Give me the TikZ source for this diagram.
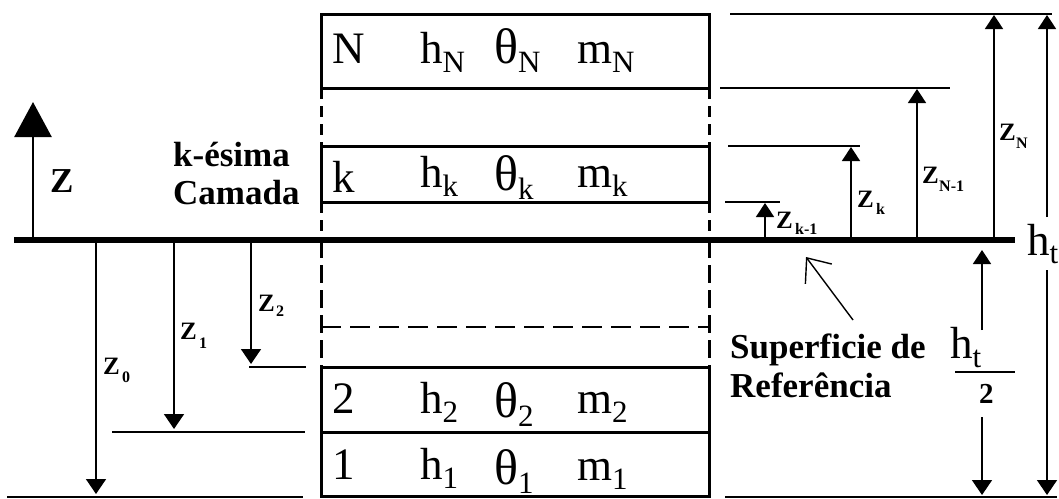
\documentclass[tikz,border=0pt]{standalone}
\usepackage{fontspec}
\setmainfont{Liberation Serif}
\usetikzlibrary{arrows.meta}
\newcommand{\boxfont}{\fontsize{45}{50}\selectfont}
\newcommand{\bsub}[1]{\raisebox{-9pt}{\fontsize{31}{32}\selectfont #1}}
\newcommand{\bigth}{{\fontsize{50}{52}\selectfont θ}}
\tikzset{
  boxline/.style={line width=3pt},
  thinline/.style={line width=1.4pt},
  refline/.style={line width=6pt},
  dashside/.style={line width=3pt, dash pattern=on 11pt off 7pt},
  dashlow/.style={line width=3pt, dash pattern=on 18pt off 7pt},
  dashhor/.style={line width=2.5pt, dash pattern=on 20pt off 9pt},
  uparr/.style={line width=1.6pt, -{Triangle[width=18pt,length=14pt]}},
  dnarr/.style={line width=1.6pt, -{Triangle[width=20pt,length=15pt]}},
  bigarr/.style={line width=2.5pt, -{Triangle[width=37pt,length=35pt]}},
  ptr/.style={line width=1.4pt, -{Straight Barb[length=20pt,width=33pt,line width=1.4pt]}},
  boxtxt/.style={anchor=base west, inner sep=0pt, font=\boxfont},
  ztxt/.style={anchor=base west, inner sep=0pt, font=\fontsize{25}{27}\selectfont\bfseries},
  zsub/.style={anchor=base west, inner sep=0pt, font=\fontsize{16}{17}\selectfont\bfseries},
  lbl/.style={anchor=base west, inner sep=0pt, font=\fontsize{35}{38}\selectfont\bfseries},
}
\begin{document}
\begin{tikzpicture}[x=1pt,y=-1pt]
\useasboundingbox (0,0) rectangle (1059,498);
\fill[white] (0,0) rectangle (1059,498);

% ---- column of layers ----
\coordinate (L0) at (321,14);  \coordinate (R0) at (709,14);
\coordinate (L1) at (321,88);  \coordinate (R1) at (709,88);
\coordinate (L2) at (321,146); \coordinate (R2) at (709,146);
\coordinate (L3) at (321,202); \coordinate (R3) at (709,202);
\coordinate (L4) at (321,367); \coordinate (R4) at (709,367);
\coordinate (L5) at (321,432); \coordinate (R5) at (709,432);
\coordinate (L6) at (321,496); \coordinate (R6) at (709,496);
\coordinate (Ld) at (321,327); \coordinate (Rd) at (709,327);

\draw[boxline] (L0) rectangle (R1);
\draw[boxline] (L2) rectangle (R3);
\draw[boxline] (L4) rectangle (R6);
\draw[boxline] (L5) -- (R5);
\draw[dashside] (L1) -- (L2);
\draw[dashside] (R1) -- (R2);
\draw[dashside] (L3) -- (321,240);
\draw[dashside] (R3) -- (709,240);
\draw[dashlow] (321,240) -- (L4);
\draw[dashlow] (709,240) -- (R4);
\draw[dashhor] (Ld) -- (Rd);

% ---- reference surface ----
\coordinate (refL) at (14,240);
\coordinate (refR) at (1015,240);
\draw[refline] (refL) -- (refR);

% ---- layer texts ----
\node[boxtxt] (nN) at (332,63) {N};
\node[boxtxt] (hN) at (420,63) {h\bsub{N}};
\node[boxtxt] (tN) at (494,63) {\bigth\bsub{N}};
\node[boxtxt] (mN) at (577,63) {m\bsub{N}};

\node[boxtxt] (nk) at (332,192) {k};
\node[boxtxt] (hk) at (420,187) {h\bsub{k}};
\node[boxtxt] (tk) at (494,190) {\bigth\bsub{k}};
\node[boxtxt] (mk) at (577,187) {m\bsub{k}};

\node[boxtxt] (n2) at (332,413) {2};
\node[boxtxt] (h2) at (420,413) {h\bsub{2}};
\node[boxtxt] (t2) at (494,417) {\bigth\bsub{2}};
\node[boxtxt] (m2) at (577,413) {m\bsub{2}};

\node[boxtxt] (n1) at (332,479) {1};
\node[boxtxt] (h1) at (420,479) {h\bsub{1}};
\node[boxtxt] (t1) at (494,484) {\bigth\bsub{1}};
\node[boxtxt] (m1) at (577,480) {m\bsub{1}};

% ---- left labels ----
\node[lbl] (kes) at (173,166) {k-ésima};
\node[lbl] (cam) at (173,204) {Camada};
\node[lbl] (Z) at (50,192) {Z};
\coordinate (zb) at (33,240);
\coordinate (zt) at (33,102);
\draw[bigarr] (zb) -- (zt);

% ---- downward z arrows (left) ----
\coordinate (z0s) at (96,240);  \coordinate (z0e) at (96,494);
\coordinate (z1s) at (174,240); \coordinate (z1e) at (174,429);
\coordinate (z2s) at (251,240); \coordinate (z2e) at (251,364);
\draw[dnarr] (z0s) -- (z0e);
\draw[dnarr] (z1s) -- (z1e);
\draw[dnarr] (z2s) -- (z2e);
\draw[thinline] (7,497) -- (303,497);
\draw[thinline] (112,432) -- (305,432);
\draw[thinline] (249,367) -- (306,367);

\node[ztxt] (z0) at (103,374) {Z};
\node[zsub] (z0i) at (122,382) {0};
\node[ztxt] (z1) at (180,339) {Z};
\node[zsub] (z1i) at (199,348) {1};
\node[ztxt] (z2) at (258,311) {Z};
\node[zsub] (z2i) at (276,316) {2};

% ---- upward z arrows (right) ----
\draw[thinline] (730,14) -- (1052,14);
\draw[thinline] (720,88) -- (950,88);
\draw[thinline] (728,146) -- (860,146);
\draw[thinline] (725,202) -- (780,202);
\draw[thinline] (725,497) -- (1057,497);

\coordinate (zks) at (765,240);  \coordinate (zke) at (765,203);
\coordinate (zk2s) at (851,240); \coordinate (zk2e) at (851,147);
\coordinate (zn1s) at (917,240); \coordinate (zn1e) at (917,89);
\coordinate (zns) at (994,240);  \coordinate (zne) at (994,15);
\draw[uparr] (zks) -- (zke);
\draw[uparr] (zk2s) -- (zk2e);
\draw[uparr] (zn1s) -- (zn1e);
\draw[uparr] (zns) -- (zne);

\node[ztxt] (zkm) at (776,228) {Z};
\node[zsub] (zkmi) at (795,234) {k-1};
\node[ztxt] (zk) at (857,207) {Z};
\node[zsub] (zki) at (876,214) {k};
\node[ztxt] (zn1) at (922,183) {Z};
\node[zsub] (zn1i) at (939,191) {N-1};
\node[ztxt] (zn) at (999,140) {Z};
\node[zsub] (zni) at (1016,148) {N};

% ---- total height h_t ----
\node[boxtxt] (ht) at (1027,255) {h\raisebox{-8pt}{\fontsize{31}{32}\selectfont t}};
\draw[uparr] (1047,217) -- (1047,15);
\draw[dnarr] (1047,270) -- (1047,495);

% ---- h_t / 2 ----
\node[boxtxt] (ht2) at (950,358) {h\raisebox{-9pt}{\fontsize{31}{32}\selectfont t}};
\draw[line width=1.4pt] (955,372) -- (1015,372);
\node[anchor=base west, inner sep=0pt, font=\fontsize{29}{31}\selectfont\bfseries] (two) at (979,403) {2};
\draw[uparr] (982,330) -- (982,250);
\draw[dnarr] (982,417) -- (982,495);

% ---- reference surface label ----
\node[lbl] (sup) at (730,358) {Superficie de};
\node[lbl] (refe) at (730,397) {Referência};
\coordinate (pt1) at (853,320);
\coordinate (pt2) at (806,257);
\draw[ptr] (pt1) -- (pt2);
\end{tikzpicture}
\end{document}
